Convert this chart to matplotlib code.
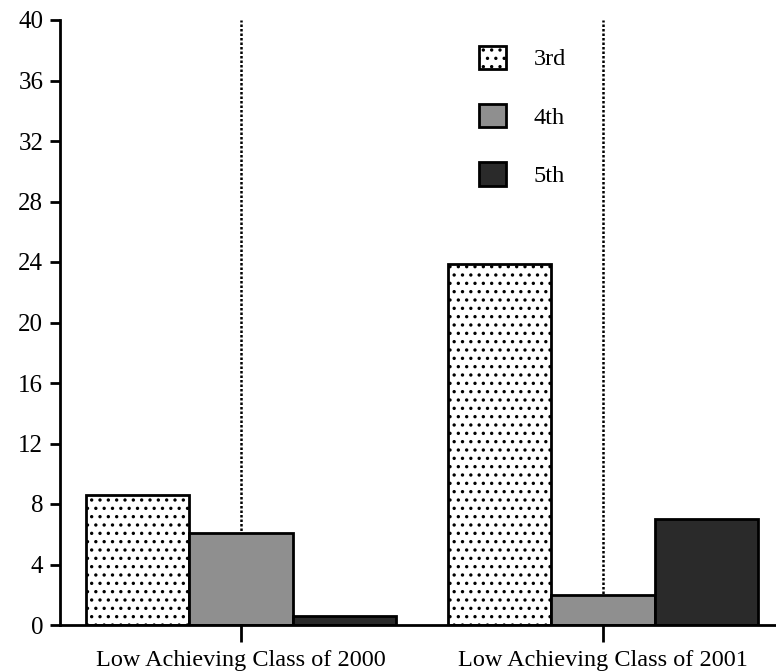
import numpy as np
import matplotlib
matplotlib.use("Agg")
import matplotlib.pyplot as plt

plt.rcParams['font.family'] = ['Liberation Serif', 'DejaVu Serif']
plt.rcParams['hatch.linewidth'] = 1.2

categories = ['Low Achieving Class of 2000', 'Low Achieving Class of 2001']
grades = ['3rd', '4th', '5th']
vals_3rd = [8.6, 23.9]
vals_4th = [6.1, 2.0]
vals_5th = [0.6, 7.0]
yticks = [0, 4, 8, 12, 16, 20, 24, 28, 32, 36, 40]

fig = plt.figure(figsize=(7.76, 6.72), dpi=100)
ax = fig.add_axes([60/776, 1-625/672, 1-60/776, (625-20)/672])

x = np.arange(len(categories))
w = 0.285
for xc in x:
    ax.axvline(xc, color='black', ls=(0, (1, 0.8)), lw=1.8, zorder=1)

ax.bar(x - w, vals_3rd, w, color='white', edgecolor='black', hatch='..', lw=2, label=grades[0], zorder=2)
ax.bar(x, vals_4th, w, color='#8f8f8f', edgecolor='black', lw=2, label=grades[1], zorder=2)
ax.bar(x + w, vals_5th, w, color='#2a2a2a', edgecolor='black', lw=2, label=grades[2], zorder=2)

ax.set_xlim(-0.5, 1.478)
ax.set_ylim(0, 40)
ax.set_yticks(yticks)
ax.set_xticks(x)
ax.set_xticklabels(categories)
for s in ['top', 'right']:
    ax.spines[s].set_visible(False)
for s in ['left', 'bottom']:
    ax.spines[s].set_linewidth(2)
ax.tick_params(axis='y', length=7, width=2, labelsize=18, pad=5)
ax.tick_params(axis='x', length=12, width=2, labelsize=17.5, pad=6)

leg = ax.legend(loc='upper left', bbox_to_anchor=(0.555, 0.994), frameon=False,
                fontsize=17.5, handlelength=1.1, handleheight=1.1,
                labelspacing=1.38, handletextpad=1.15)
for p in leg.get_patches():
    p.set_linewidth(2)

fig.savefig('out.png')
